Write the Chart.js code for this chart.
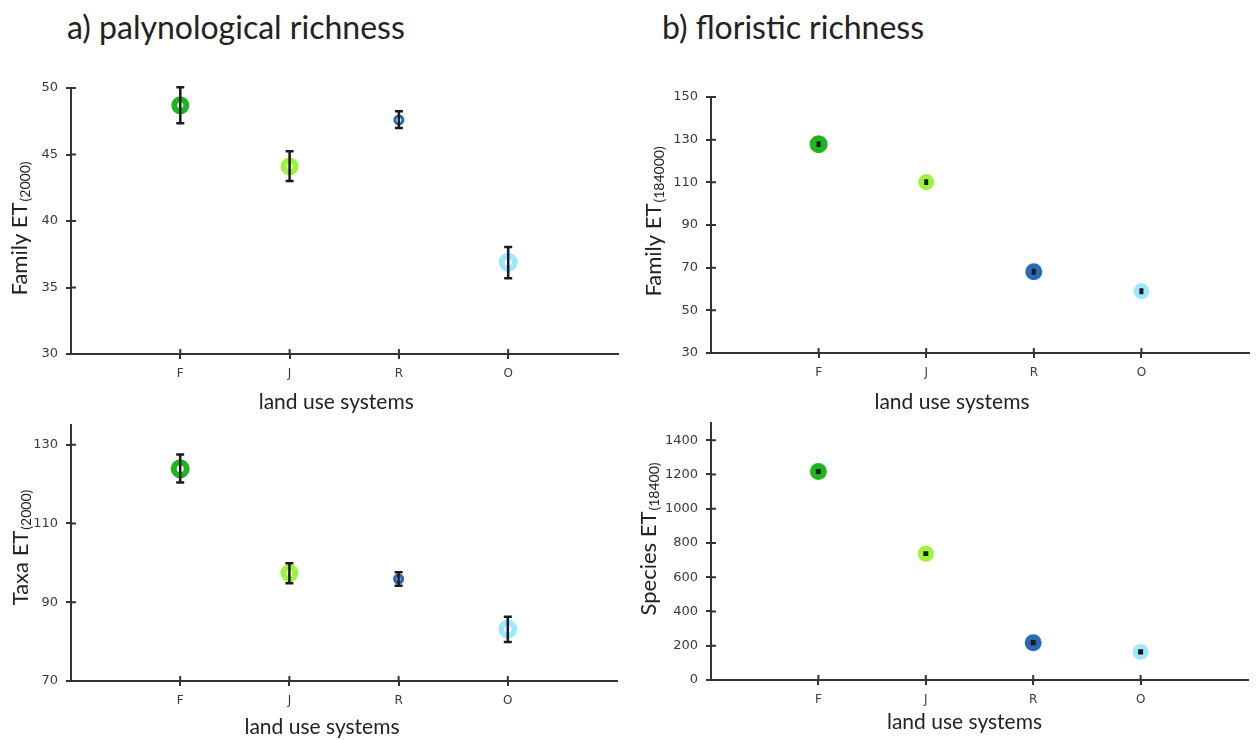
<!DOCTYPE html>
<html>
<head>
<meta charset="utf-8">
<script src="https://cdn.jsdelivr.net/npm/chart.js@4.4.1/dist/chart.umd.min.js"></script>
<style>
  body { margin: 0; background: #fff; width: 1258px; height: 740px; position: relative; overflow: hidden; font-family: Lato, sans-serif; }
  canvas { position: absolute; }
  .ttl { position: absolute; font-size: 32px; color: #222; line-height: 1; white-space: nowrap; }
</style>
</head>
<body>
<div class="ttl" style="left:67px;top:11px">a) palynological richness</div>
<div class="ttl" style="left:662px;top:11px">b) floristic richness</div>
<canvas id="cA" width="630" height="370" style="left:0;top:50px"></canvas>
<canvas id="cB" width="628" height="370" style="left:630px;top:50px"></canvas>
<canvas id="cC" width="630" height="345" style="left:0;top:395px"></canvas>
<canvas id="cD" width="628" height="345" style="left:630px;top:395px"></canvas>
<script>
// land use systems
const categories = ['F', 'J', 'R', 'O'];
const catPos = [1, 2, 3, 4];
const landColors = ['#1fb51f', '#9cf53a', '#2a68b8', '#9ee8ff'];

// a) palynological richness - family
const palFamily = [48.7, 44.1, 47.6, 36.9];
const palFamilyLow = [47.35, 43.0, 47.0, 35.7];
const palFamilyHigh = [50.05, 45.25, 48.25, 38.05];
const palFamilyTicks = [30, 35, 40, 45, 50];

// a) palynological richness - taxa
const palTaxa = [123.9, 97.4, 95.9, 83.2];
const palTaxaLow = [120.4, 94.8, 94.2, 79.9];
const palTaxaHigh = [127.5, 99.9, 97.6, 86.3];
const palTaxaTicks = [70, 90, 110, 130];

// b) floristic richness - family
const floFamily = [127.9, 110.1, 68.1, 58.9];
const floFamilyLow = [127.3, 109.5, 67.4, 58.2];
const floFamilyHigh = [128.5, 110.7, 68.8, 59.6];
const floFamilyTicks = [30, 50, 70, 90, 110, 130, 150];

// b) floristic richness - species
const floSpecies = [1217, 737, 218, 164];
const floSpeciesLow = [1211, 732, 212, 158];
const floSpeciesHigh = [1223, 742, 224, 170];
const floSpeciesTicks = [0, 200, 400, 600, 800, 1000, 1200, 1400];

const errorBars = {
  id: 'errorBars',
  afterDatasetsDraw(chart, args, o) {
    const { ctx, scales: { x, y } } = chart;
    ctx.save();
    ctx.strokeStyle = '#1a1a1a';
    ctx.lineWidth = o.width;
    o.low.forEach((lo, i) => {
      const px = x.getPixelForValue(catPos[i]);
      const p1 = y.getPixelForValue(lo), p2 = y.getPixelForValue(o.high[i]);
      ctx.beginPath();
      ctx.moveTo(px, p1); ctx.lineTo(px, p2);
      ctx.moveTo(px - o.cap, p1); ctx.lineTo(px + o.cap, p1);
      ctx.moveTo(px - o.cap, p2); ctx.lineTo(px + o.cap, p2);
      ctx.stroke();
    });
    ctx.restore();
  }
};

// inner half of the tick marks (chart.js only draws the outer one)
const crossTicks = {
  id: 'crossTicks',
  afterDraw(chart) {
    const { ctx, chartArea: a, scales: { x, y } } = chart;
    ctx.save();
    ctx.strokeStyle = '#333';
    ctx.lineWidth = 2;
    ctx.beginPath();
    y.ticks.forEach(t => { const p = y.getPixelForValue(t.value); ctx.moveTo(a.left, p); ctx.lineTo(a.left + 5, p); });
    x.ticks.forEach(t => { const p = x.getPixelForValue(t.value); ctx.moveTo(p, a.bottom); ctx.lineTo(p, a.bottom - 5); });
    ctx.stroke();
    ctx.restore();
  }
};

const axisText = {
  id: 'axisText',
  afterDraw(chart, args, o) {
    const { ctx, chartArea: a } = chart;
    ctx.save();
    ctx.fillStyle = '#222';
    ctx.font = '21px Lato';
    ctx.textAlign = 'center';
    ctx.textBaseline = 'middle';
    ctx.fillText('land use systems', (a.left + a.right) / 2 + o.xDx, a.bottom + o.xDy);

    ctx.translate(a.left - o.yOff, (a.top + a.bottom) / 2 + o.yDy);
    ctx.rotate(-Math.PI / 2);
    ctx.textAlign = 'left';
    ctx.textBaseline = 'alphabetic';
    ctx.font = '22px Lato';
    const w1 = ctx.measureText(o.main).width;
    ctx.font = '14px Lato';
    const w2 = ctx.measureText(o.sub).width;
    const x0 = -(w1 + w2) / 2;
    ctx.font = '22px Lato';
    ctx.fillText(o.main, x0, 0);
    ctx.font = '14px Lato';
    ctx.fillText(o.sub, x0 + w1 + 1, 3);
    ctx.restore();
  }
};

function makeChart(id, c) {
  const axisLine = { color: '#333', width: 2 };
  const grid = { drawOnChartArea: false, tickLength: 5, tickColor: '#333', lineWidth: 2 };
  return new Chart(document.getElementById(id), {
    type: 'scatter',
    data: {
      datasets: [{
        data: c.values.map((v, i) => ({ x: catPos[i], y: v })),
        pointBackgroundColor: c.filled ? landColors : '#fff',
        pointBorderColor: landColors,
        pointBorderWidth: c.borderW,
        pointRadius: c.radius,
        showLine: false
      }]
    },
    options: {
      responsive: false,
      animation: false,
      events: [],
      layout: { padding: c.pad },
      plugins: {
        legend: { display: false },
        tooltip: { enabled: false },
        errorBars: { low: c.low, high: c.high, width: c.ebW, cap: c.cap },
        axisText: c.text
      },
      scales: {
        x: {
          type: 'linear', min: 0, max: 5,
          afterBuildTicks: s => { s.ticks = catPos.map(v => ({ value: v })); },
          afterFit: s => { s.height = c.xH; },
          ticks: { callback: v => categories[v - 1], padding: 8, autoSkip: false, maxRotation: 0, color: '#3a3a3a', font: { family: 'DejaVu Sans', size: 12 } },
          grid, border: axisLine
        },
        y: {
          min: c.yMin, max: c.yMax,
          afterBuildTicks: s => { s.ticks = c.yTicks.map(v => ({ value: v })); },
          afterFit: s => { s.width = c.yW; },
          ticks: { callback: v => String(v), padding: 8, color: '#3a3a3a', font: { family: 'DejaVu Sans', size: 13 } },
          grid, border: axisLine
        }
      }
    },
    plugins: [errorBars, crossTicks, axisText]
  });
}

makeChart('cA', {
  values: palFamily, low: palFamilyLow, high: palFamilyHigh, yTicks: palFamilyTicks,
  yMin: 30, yMax: 50, filled: false, radius: [6, 6, 4, 6.5], borderW: [6, 6, 3, 6],
  ebW: 2.5, cap: 4, yW: 71, xH: 66, pad: { top: 38, right: 6, left: 0, bottom: 0 },
  text: { main: 'Family ET', sub: '(2000)', yOff: 44, yDy: 8, xDx: -8, xDy: 48 }
});

makeChart('cB', {
  values: floFamily, low: floFamilyLow, high: floFamilyHigh, yTicks: floFamilyTicks,
  yMin: 30, yMax: 150, filled: true, radius: [9, 8, 8.5, 8], borderW: [0, 0, 0, 0],
  ebW: 3, cap: 2, yW: 81, xH: 67, pad: { top: 47, right: 6, left: 0, bottom: 0 },
  text: { main: 'Family ET', sub: '(184000)', yOff: 50, yDy: -3, xDx: -28, xDy: 49 }
});

makeChart('cC', {
  values: palTaxa, low: palTaxaLow, high: palTaxaHigh, yTicks: palTaxaTicks,
  yMin: 70, yMax: 135, filled: false, radius: [6.5, 6, 3.8, 6.5], borderW: [6, 6, 3.5, 6],
  ebW: 2.5, cap: 4, yW: 71, xH: 59, pad: { top: 30, right: 13, left: 0, bottom: 0 },
  text: { main: 'Taxa ET', sub: '(2000)', yOff: 43, yDy: -5, xDx: -22, xDy: 46 }
});

makeChart('cD', {
  values: floSpecies, low: floSpeciesLow, high: floSpeciesHigh, yTicks: floSpeciesTicks,
  yMin: 0, yMax: 1500, filled: true, radius: [8.5, 8, 8.5, 8], borderW: [0, 0, 0, 0],
  ebW: 3, cap: 2.5, yW: 81, xH: 60, pad: { top: 28, right: 10, left: 0, bottom: 0 },
  text: { main: 'Species ET', sub: '(18400)', yOff: 55, yDy: -12, xDx: -15, xDy: 42 }
});
</script>
</body>
</html>
